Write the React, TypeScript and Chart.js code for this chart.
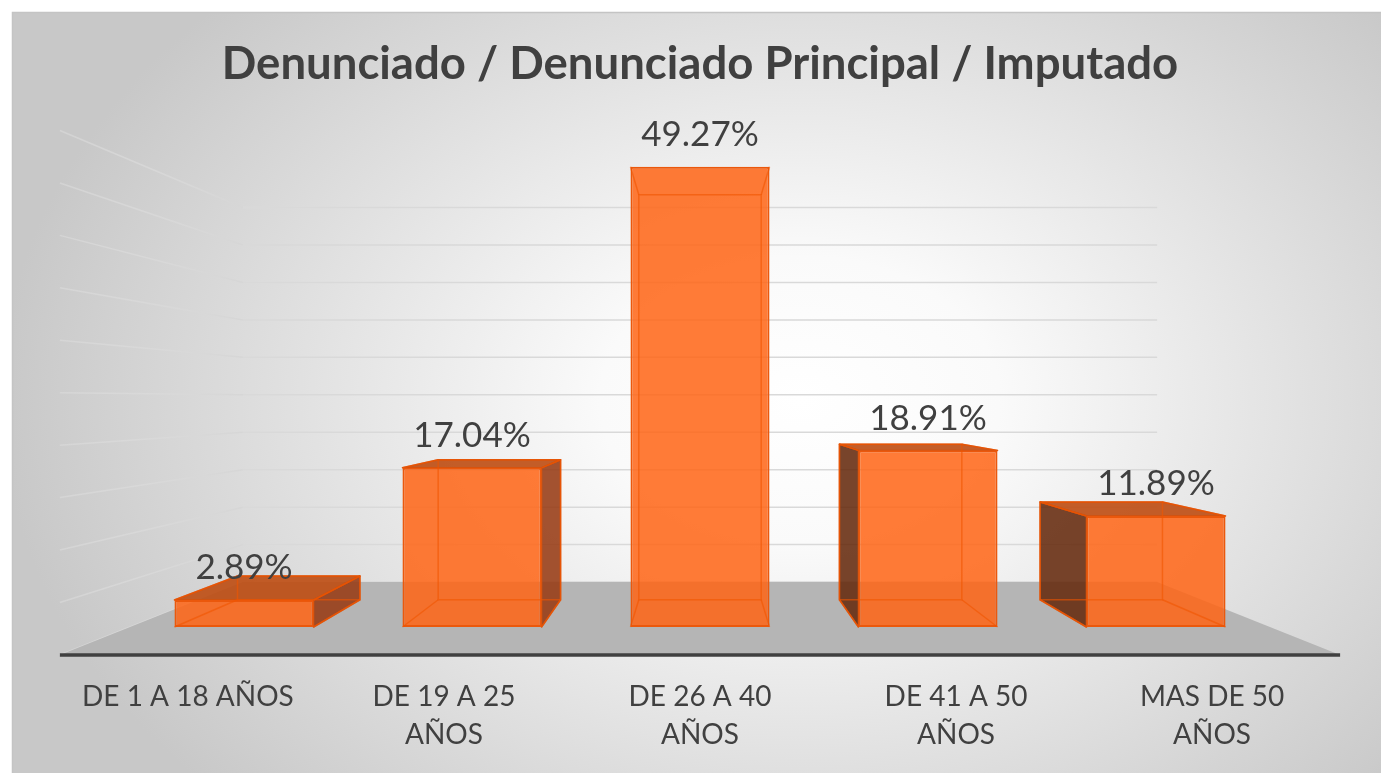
import React, { useEffect, useRef } from "react";
import { Chart, registerables } from "chart.js";

Chart.register(...registerables);

// ---------- data ----------
const TITLE = "Denunciado / Denunciado Principal / Imputado";
const categories: string[][] = [
  ["DE 1 A 18 AÑOS"],
  ["DE 19 A 25", "AÑOS"],
  ["DE 26 A 40", "AÑOS"],
  ["DE 41 A 50", "AÑOS"],
  ["MAS DE 50", "AÑOS"],
];
const values: number[] = [2.89, 17.04, 49.27, 18.91, 11.89];
const valueLabels: string[] = ["2.89%", "17.04%", "49.27%", "18.91%", "11.89%"];
const Y_MIN = 0;
const Y_MAX = 50;
const gridValues: number[] = [0, 5, 10, 15, 20, 25, 30, 35, 40, 45, 50];

// ---------- styling ----------
const FONT = "Lato, 'Open Sans', sans-serif";
const TEXT = "#404040";
const PERSP = { vpYFrac: 0.486, floorFront: 1.123, barBack: 0.88, wall: 0.802 };

function vp(chart: any) {
  const ca = chart.chartArea;
  return {
    vx: (ca.left + ca.right) / 2,
    vy: ca.bottom - PERSP.vpYFrac * (ca.bottom - ca.top),
  };
}
function proj(chart: any, x: number, y: number, s: number): [number, number] {
  const { vx, vy } = vp(chart);
  return [vx + s * (x - vx), vy + s * (y - vy)];
}
function poly(ctx: CanvasRenderingContext2D, pts: [number, number][]) {
  ctx.beginPath();
  ctx.moveTo(pts[0][0], pts[0][1]);
  for (let i = 1; i < pts.length; i++) ctx.lineTo(pts[i][0], pts[i][1]);
  ctx.closePath();
}

const scenePlugin = {
  id: "scene3d",
  beforeDraw(chart: any) {
    const ctx: CanvasRenderingContext2D = chart.ctx;
    const W = chart.width;
    const H = chart.height;
    ctx.save();
    ctx.fillStyle = "#ffffff";
    ctx.fillRect(0, 0, W, H);
    ctx.save();
    ctx.beginPath();
    ctx.rect(12, 12, W, H);
    ctx.clip();
    ctx.translate(800, 400);
    ctx.scale(1, 0.72);
    const g = ctx.createRadialGradient(0, 0, 0, 0, 0, 800);
    g.addColorStop(0, "#ffffff");
    g.addColorStop(0.25, "#fafafa");
    g.addColorStop(0.7, "#dcdcdc");
    g.addColorStop(1, "#c8c8c8");
    ctx.fillStyle = g;
    ctx.fillRect(-1000, -1000, 2000, 2000);
    ctx.restore();
    ctx.strokeStyle = "#c4c4c4";
    ctx.lineWidth = 1.5;
    ctx.strokeRect(12.5, 12.5, W, H);
    ctx.restore();
  },
  beforeDatasetsDraw(chart: any) {
    const ctx: CanvasRenderingContext2D = chart.ctx;
    const ca = chart.chartArea;
    const ys = chart.scales.y;
    ctx.save();
    ctx.lineWidth = 1.5;
    for (const v of gridValues) {
      const y = ys.getPixelForValue(v);
      const bl = proj(chart, ca.left, y, PERSP.wall);
      const br = proj(chart, ca.right, y, PERSP.wall);
      const fl = proj(chart, ca.left, y, PERSP.floorFront);
      const lg = ctx.createLinearGradient(fl[0], 0, bl[0], 0);
      lg.addColorStop(0, "rgba(222,222,222,0.5)");
      lg.addColorStop(1, "rgba(214,214,214,1)");
      ctx.strokeStyle = lg;
      ctx.beginPath();
      ctx.moveTo(fl[0], fl[1]);
      ctx.lineTo(bl[0], bl[1]);
      ctx.stroke();
      ctx.strokeStyle = "#d9d9d9";
      ctx.beginPath();
      ctx.moveTo(bl[0], bl[1]);
      ctx.lineTo(br[0], br[1]);
      ctx.stroke();
    }
    const y0 = ys.getPixelForValue(Y_MIN);
    const ffl = proj(chart, ca.left, y0, PERSP.floorFront);
    const ffr = proj(chart, ca.right, y0, PERSP.floorFront);
    const fbl = proj(chart, ca.left, y0, PERSP.wall);
    const fbr = proj(chart, ca.right, y0, PERSP.wall);
    ctx.fillStyle = "#b5b5b5";
    poly(ctx, [ffl, fbl, fbr, ffr]);
    ctx.fill();
    ctx.strokeStyle = "#404040";
    ctx.lineWidth = 3.5;
    ctx.beginPath();
    ctx.moveTo(ffl[0], ffl[1]);
    ctx.lineTo(ffr[0], ffr[1]);
    ctx.stroke();

    const meta = chart.getDatasetMeta(0);
    meta.data.forEach((bar: any) => {
      const p = bar.getProps(["x", "y", "base", "width"], true);
      const xl = p.x - p.width / 2;
      const xr = p.x + p.width / 2;
      const yt = p.y;
      const yb = p.base;
      const s = PERSP.barBack;
      const btl = proj(chart, xl, yt, s);
      const btr = proj(chart, xr, yt, s);
      const bbl = proj(chart, xl, yb, s);
      const bbr = proj(chart, xr, yb, s);
      ctx.lineJoin = "round";
      ctx.lineWidth = 1.5;
      ctx.strokeStyle = "rgba(215,80,10,0.95)";
      if (bbl[0] < xl - 0.5) {
        ctx.fillStyle = "rgba(100,40,12,0.87)";
        poly(ctx, [[xl, yt], btl, bbl, [xl, yb]]);
        ctx.fill();
        ctx.stroke();
      }
      if (bbr[0] > xr + 0.5) {
        ctx.fillStyle = "rgba(150,58,18,0.87)";
        poly(ctx, [[xr, yt], btr, bbr, [xr, yb]]);
        ctx.fill();
        ctx.stroke();
      }
      if (btl[1] < yt - 0.5) {
        ctx.fillStyle = "rgba(190,76,18,0.9)";
        poly(ctx, [[xl, yt], btl, btr, [xr, yt]]);
        ctx.fill();
        ctx.stroke();
      }
    });
    ctx.restore();
  },
  afterDatasetsDraw(chart: any) {
    const ctx: CanvasRenderingContext2D = chart.ctx;
    const meta = chart.getDatasetMeta(0);
    ctx.save();
    ctx.strokeStyle = "rgba(240,85,0,0.6)";
    ctx.lineWidth = 1.5;
    meta.data.forEach((bar: any) => {
      const p = bar.getProps(["x", "y", "base", "width"], true);
      const xl = p.x - p.width / 2;
      const xr = p.x + p.width / 2;
      const yt = p.y;
      const yb = p.base;
      const s = PERSP.barBack;
      const btl = proj(chart, xl, yt, s);
      const btr = proj(chart, xr, yt, s);
      const bbl = proj(chart, xl, yb, s);
      const bbr = proj(chart, xr, yb, s);
      poly(ctx, [btl, btr, bbr, bbl]);
      ctx.stroke();
      const pairs: [[number, number], [number, number]][] = [
        [[xl, yt], btl],
        [[xr, yt], btr],
        [[xl, yb], bbl],
        [[xr, yb], bbr],
      ];
      for (const [a, b] of pairs) {
        ctx.beginPath();
        ctx.moveTo(a[0], a[1]);
        ctx.lineTo(b[0], b[1]);
        ctx.stroke();
      }
    });
    ctx.restore();
  },
  afterDraw(chart: any) {
    const ctx: CanvasRenderingContext2D = chart.ctx;
    const ca = chart.chartArea;
    const ys = chart.scales.y;
    const meta = chart.getDatasetMeta(0);
    ctx.save();
    ctx.fillStyle = TEXT;
    ctx.textAlign = "center";
    ctx.textBaseline = "middle";
    ctx.font = `bold 45.5px ${FONT}`;
    ctx.fillText(TITLE, (ca.left + ca.right) / 2, 64);
    ctx.font = `35px ${FONT}`;
    meta.data.forEach((bar: any, i: number) => {
      const p = bar.getProps(["x", "y"], true);
      ctx.fillText(valueLabels[i], p.x, p.y - 32);
    });
    ctx.font = `28px ${FONT}`;
    const y0 = ys.getPixelForValue(Y_MIN);
    meta.data.forEach((bar: any, i: number) => {
      const p = bar.getProps(["x"], true);
      const [fx, fy] = proj(chart, p.x, y0, PERSP.floorFront);
      categories[i].forEach((line, j) => {
        ctx.fillText(line, fx, fy + 42 + j * 38);
      });
    });
    ctx.restore();
  },
};

export default function App() {
  const ref = useRef<HTMLCanvasElement | null>(null);
  useEffect(() => {
    if (!ref.current) return;
    const chart = new Chart(ref.current, {
      type: "bar",
      data: {
        labels: categories,
        datasets: [
          {
            data: values,
            backgroundColor: "rgba(255,100,20,0.85)",
            borderColor: "rgb(235,88,12)",
            borderWidth: 2,
            borderSkipped: false,
            barPercentage: 0.61,
            categoryPercentage: 1,
          },
        ],
      },
      options: {
        responsive: false,
        animation: false,
        devicePixelRatio: 1,
        layout: { padding: { left: 130, right: 111, top: 160, bottom: 146 } },
        scales: {
          x: { display: false },
          y: { display: false, min: Y_MIN, max: Y_MAX },
        },
        plugins: {
          legend: { display: false },
          title: { display: false },
          tooltip: { enabled: false },
        },
      },
      plugins: [scenePlugin],
    });
    return () => chart.destroy();
  }, []);
  return (
    <div style={{ position: "absolute", left: 0, top: 0, width: 1381, height: 773 }}>
      <canvas ref={ref} width={1381} height={773} style={{ display: "block" }} />
    </div>
  );
}
